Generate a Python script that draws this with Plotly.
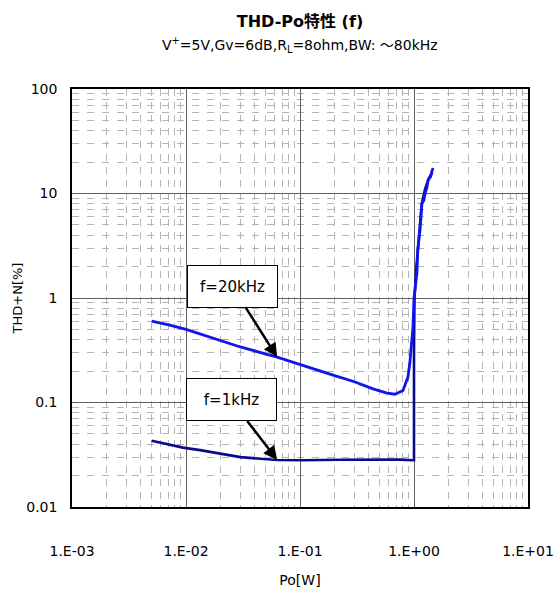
import plotly.graph_objects as go
import numpy as np

# ---- data ----
po_20k = [0.005, 0.0072, 0.01, 0.02, 0.03, 0.063, 0.122, 0.195, 0.3, 0.437, 0.58, 0.68,
          0.80, 0.85, 0.885, 0.92, 0.96, 0.98, 1.0, 1.06, 1.08, 1.13, 1.175, 1.22, 1.25,
          1.30, 1.33, 1.40, 1.44, 1.47]
thd_20k = [0.60, 0.55, 0.50, 0.39, 0.34, 0.272, 0.214, 0.183, 0.158, 0.135, 0.123, 0.12,
           0.13, 0.16, 0.175, 0.24, 0.37, 0.53, 1.0, 1.73, 2.9, 4.5, 8.1, 8.6, 10.0,
           11.5, 13.5, 14.5, 16.5, 17.5]

po_1k = [0.005, 0.0094, 0.0133, 0.03, 0.063, 0.106, 0.224, 0.5, 0.75, 0.97, 1.0, 1.0,
         1.01, 1.05, 1.1, 1.17, 1.25, 1.35, 1.45]
thd_1k = [0.043, 0.037, 0.035, 0.030, 0.0282, 0.028, 0.0283, 0.0285, 0.0284, 0.028, 0.028, 0.3,
          1.0, 2.0, 4.0, 8.0, 11.0, 14.0, 16.0]

x_tickvals = [0.001, 0.01, 0.1, 1, 10]
x_ticktext = ["1.E-03", "1.E-02", "1.E-01", "1.E+00", "1.E+01"]
y_tickvals = [0.01, 0.1, 1, 10, 100]
y_ticktext = ["0.01", "0.1", "1", "10", "100"]

# annotation tip points (on the curves)
tip_20k = (0.063, 0.272)
tip_1k = (0.063, 0.0282)

FONT = "DejaVu Sans, Noto Sans CJK JP"

fig = go.Figure()
fig.add_trace(go.Scatter(x=po_1k, y=thd_1k, mode="lines",
                         line=dict(color="#0a0a8a", width=2.6), showlegend=False))
fig.add_trace(go.Scatter(x=po_20k, y=thd_20k, mode="lines",
                         line=dict(color="#0f14f0", width=2.8), showlegend=False))

minor_x = [k * 10.0 ** d for d in range(-3, 1) for k in range(2, 10)]
minor_y = [k * 10.0 ** d for d in range(-2, 2) for k in range(2, 10)]

fig.update_xaxes(type="log", range=[-3, 1], tickvals=x_tickvals, ticktext=x_ticktext,
                 showline=True, linecolor="black", linewidth=1.5, mirror=True,
                 showgrid=True, gridcolor="#606060", gridwidth=1.2,
                 ticks="", ticklabelstandoff=30, zeroline=False, automargin=False,
                 tickfont=dict(family=FONT, size=14, color="black"),
                 title=dict(text="Po[W]", font=dict(family=FONT, size=14, color="black"),
                            standoff=18),
                 minor=dict(tickvals=minor_x, showgrid=True, gridcolor="#b4b4b4",
                            griddash="7px,6px", gridwidth=1))
fig.update_yaxes(type="log", range=[-2, 2], tickvals=y_tickvals, ticktext=y_ticktext,
                 showline=True, linecolor="black", linewidth=1.5, mirror=True,
                 showgrid=True, gridcolor="#606060", gridwidth=1.2,
                 ticks="", ticklabelstandoff=10, zeroline=False, automargin=False,
                 tickfont=dict(family=FONT, size=14, color="black"),
                 title=dict(text="THD+N[%]", font=dict(family=FONT, size=13, color="black"),
                            standoff=1),
                 minor=dict(tickvals=minor_y, showgrid=True, gridcolor="#b4b4b4",
                            griddash="7px,8px", gridwidth=1))

ann_common = dict(xref="x", yref="y", showarrow=True, arrowhead=2, arrowsize=1.1,
                  arrowwidth=2.5, arrowcolor="black", bgcolor="white",
                  bordercolor="black", borderwidth=1, borderpad=0,
                  width=89, height=41, font=dict(family=FONT, size=15, color="black"))
fig.add_annotation(x=np.log10(tip_20k[0]), y=np.log10(tip_20k[1]), text="f=20kHz",
                   ax=-45, ay=-71, **ann_common)
fig.add_annotation(x=np.log10(tip_1k[0]), y=np.log10(tip_1k[1]), text="f=1kHz",
                   ax=-46, ay=-60, **ann_common)

fig.update_layout(
    width=557, height=589,
    margin=dict(l=72, r=29, t=89, b=82),
    paper_bgcolor="white", plot_bgcolor="white",
    title=dict(text="<b>THD-Po特性 (f)</b>",
               x=0.5, xref="paper", xanchor="center", y=0.964, yanchor="middle",
               font=dict(family=FONT, size=16, color="black")),
)
fig.add_annotation(xref="paper", yref="paper", x=0.5, y=1.0, yshift=44,
                   xanchor="center", yanchor="middle", showarrow=False,
                   text="V<sup>+</sup>=5V,Gv=6dB,R<sub>L</sub>=8ohm,BW: ～80kHz",
                   font=dict(family=FONT, size=14, color="black"))

fig.write_html("out.html")
